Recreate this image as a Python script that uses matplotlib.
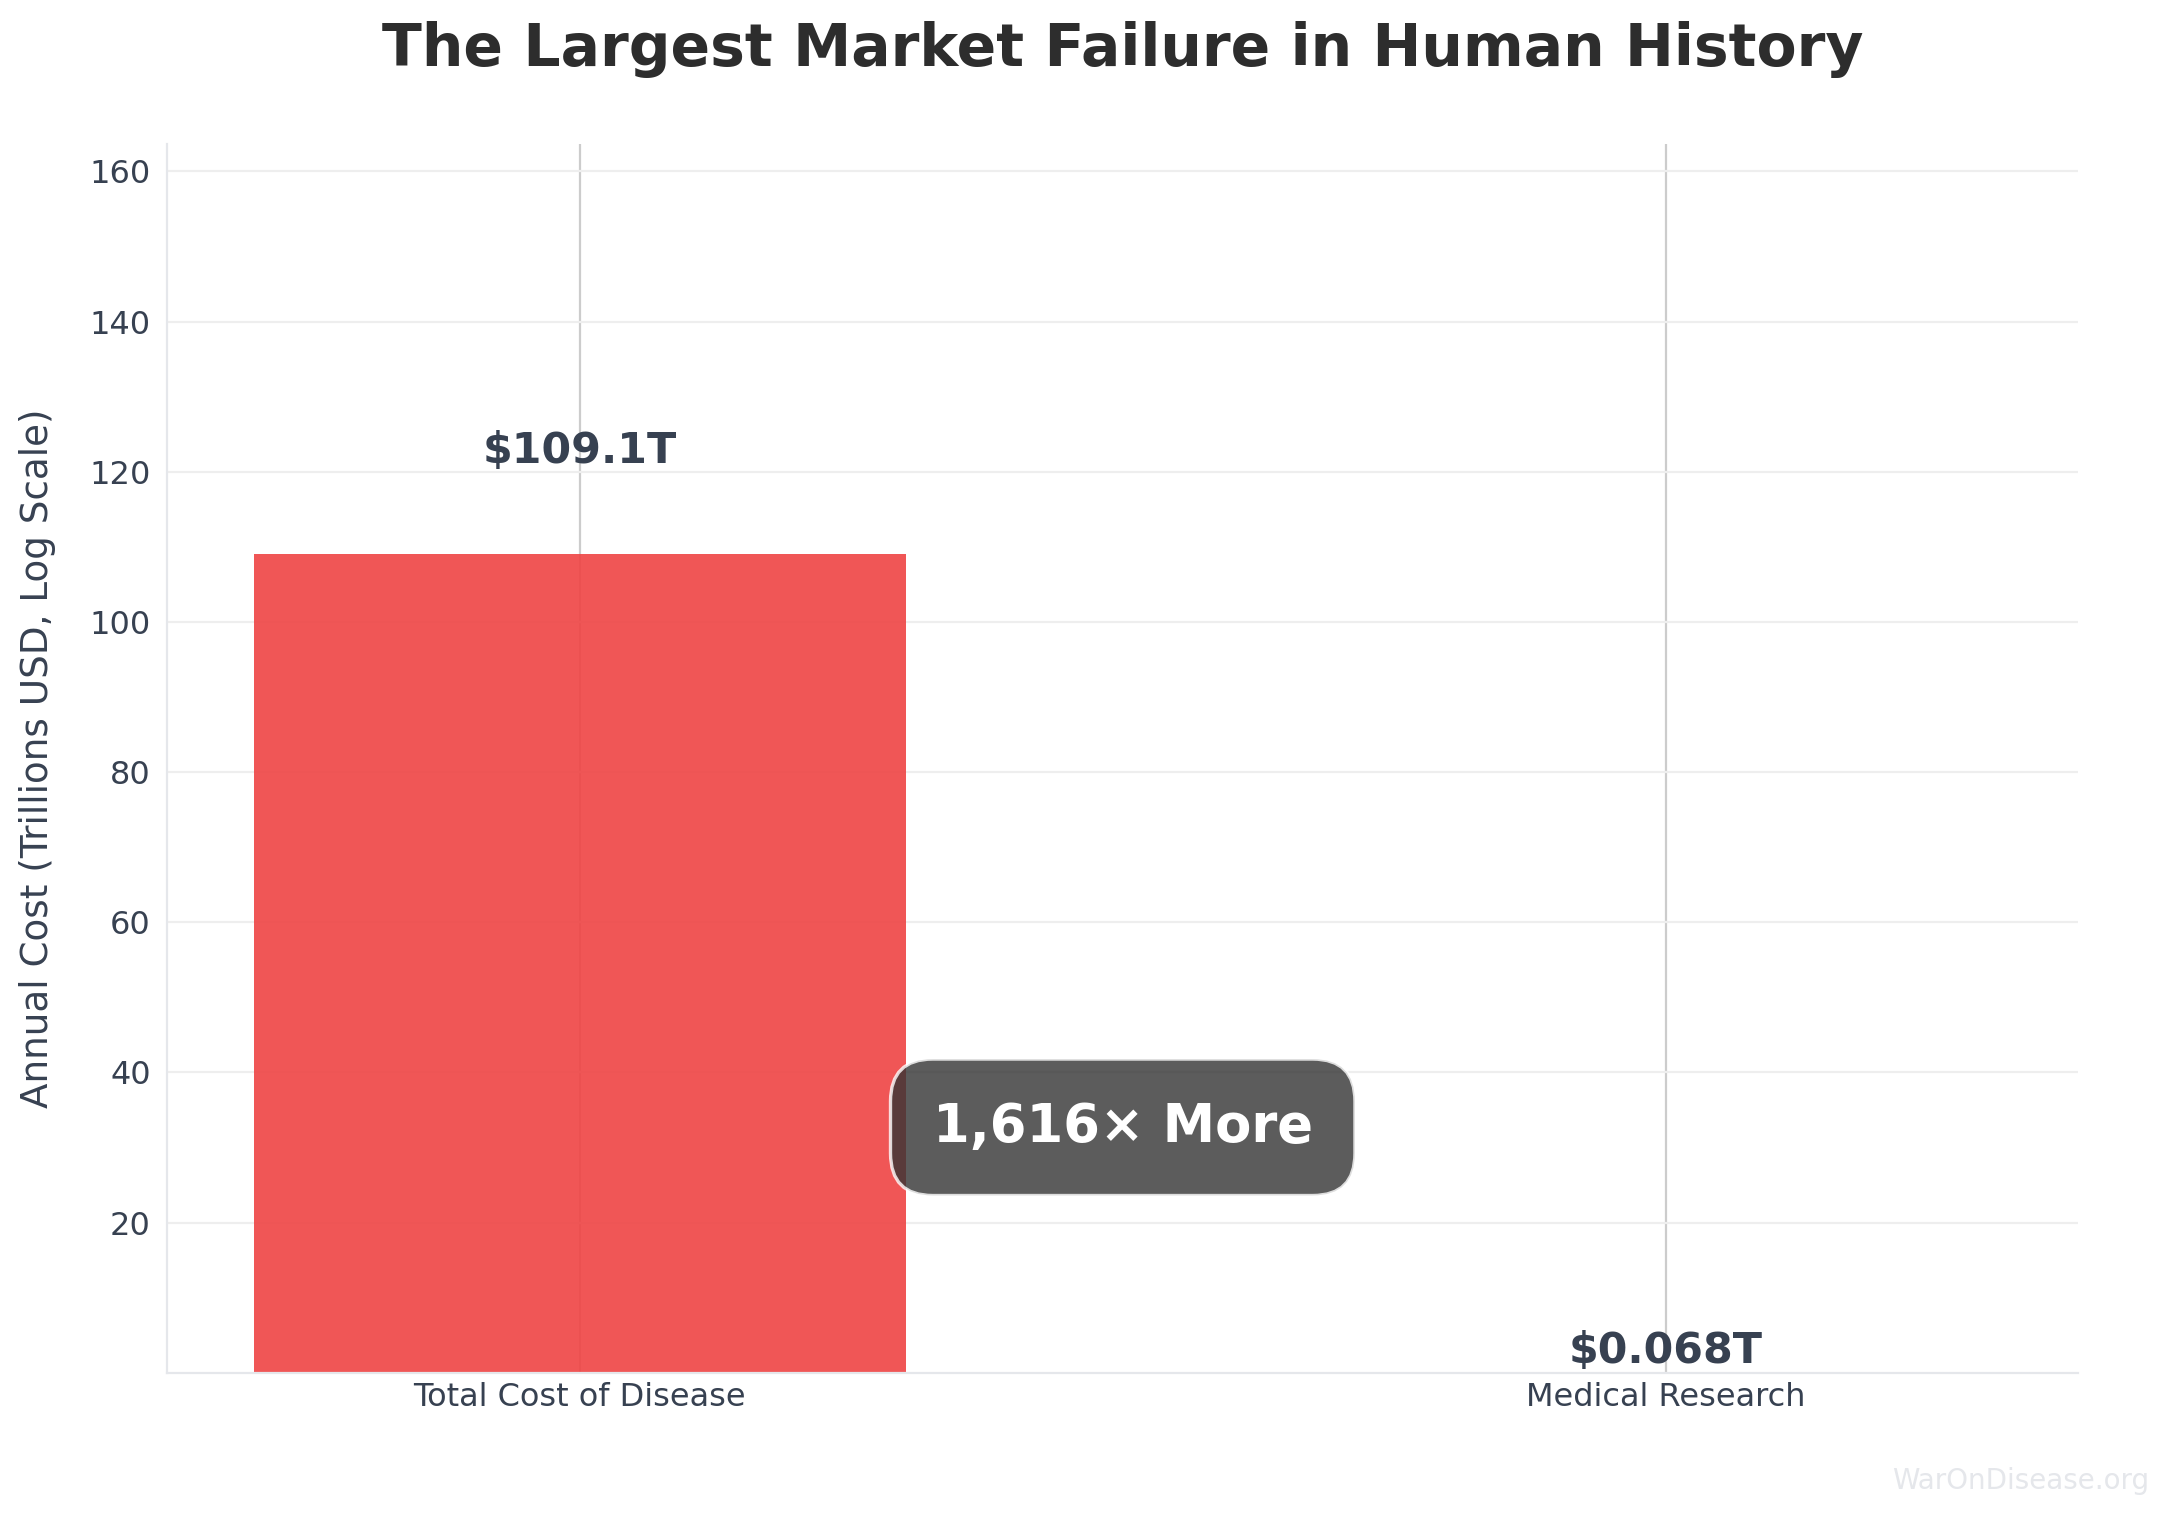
import matplotlib
matplotlib.use("Agg")
import matplotlib.pyplot as plt

# data
categories = ["Total Cost of Disease", "Medical Research"]
costs = [109.1, 0.068]          # trillions USD
value_labels = ["$109.1T", "$0.068T"]
ratio_label = "1,616\u00d7 More"
bar_colors = ["#EF4444", "#3B82F6"]

text_col = "#374151"

fig = plt.figure(figsize=(10.835, 7.575), dpi=200)
ax = fig.add_axes([0.0772, 0.094, 0.8818, 0.811])

x = list(range(len(categories)))
ax.bar(x, costs, width=0.6, color=bar_colors, alpha=0.9, zorder=2)

ax.set_xlim(-0.38, 1.38)
ax.set_ylim(min(costs) * 0.5, max(costs) * 1.5)
ax.set_yticks([20, 40, 60, 80, 100, 120, 140, 160])
ax.set_xticks(x)
ax.set_xticklabels(categories)

# grids (behind the bars)
ax.set_axisbelow(True)
ax.yaxis.grid(True, color="#eeeeee", linewidth=0.8)
ax.xaxis.grid(True, color="#cccccc", linewidth=0.8)

for s in ["top", "right"]:
    ax.spines[s].set_visible(False)
for s in ["left", "bottom"]:
    ax.spines[s].set_color("#e5e7eb")
    ax.spines[s].set_linewidth(0.8)

ax.tick_params(axis="both", length=0, labelsize=11.5, labelcolor=text_col)
ax.tick_params(axis="y", pad=6)
ax.tick_params(axis="x", pad=3.5)
ax.set_ylabel("Annual Cost (Trillions USD, Log Scale)", fontsize=13.4,
              color=text_col, labelpad=12)
ax.set_title("The Largest Market Failure in Human History", fontsize=21,
             fontweight="bold", color="#2d2d2d", pad=28)

# value labels
for xi, v, lab in zip(x, costs, value_labels):
    ax.text(xi, v * 1.1, lab, ha="center", va="bottom", fontsize=15.4,
            fontweight="bold", color=text_col, zorder=5)

# ratio callout
ax.text(0.5, 32.7, ratio_label, ha="center", va="center", fontsize=19,
        fontweight="bold", color="white", zorder=6,
        bbox=dict(boxstyle="round,pad=0.8", facecolor="#333333", alpha=0.8,
                  edgecolor="white", linewidth=1.2))

fig.text(0.992, 0.013, "WarOnDisease.org", ha="right", va="bottom",
         fontsize=10, color="#e5e7eb")

fig.savefig("out.png", dpi=200, facecolor="white")
